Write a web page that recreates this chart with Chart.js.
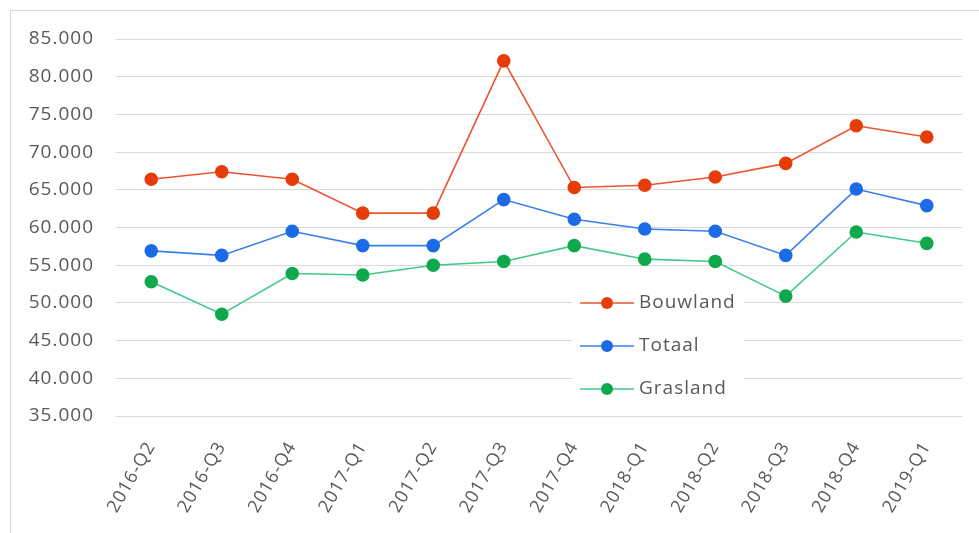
<!DOCTYPE html>
<html>
<head>
<meta charset="utf-8">
<script src="https://cdn.jsdelivr.net/npm/chart.js@4.4.1/dist/chart.umd.min.js"></script>
<style>
  html, body { margin: 0; padding: 0; background: #fff; }
  #wrap { position: relative; width: 979px; height: 533px; overflow: hidden; }
  #frame { position: absolute; left: 10px; top: 10px; width: 1000px; height: 600px; border: 1px solid #d9d9d9; }
  canvas { position: absolute; left: 0; top: 0; }
</style>
</head>
<body>
<div id="wrap">
  <div id="frame"></div>
  <canvas id="chart" width="979" height="533"></canvas>
</div>
<script>
// ── Data ───────────────────────────────────────────────────────
const quarters = ['2016-Q2', '2016-Q3', '2016-Q4', '2017-Q1', '2017-Q2', '2017-Q3',
                  '2017-Q4', '2018-Q1', '2018-Q2', '2018-Q3', '2018-Q4', '2019-Q1'];
const bouwland = [66400, 67400, 66400, 61900, 61900, 82100, 65300, 65600, 66700, 68500, 73500, 72000];
const totaal   = [56900, 56300, 59500, 57600, 57600, 63700, 61100, 59800, 59500, 56300, 65100, 62900];
const grasland = [52800, 48500, 53900, 53700, 55000, 55500, 57600, 55800, 55500, 50900, 59400, 57900];

const yMin = 35000, yMax = 85000, yStep = 5000;

const FONT = '"Open Sans", "Noto Sans", sans-serif';
const TEXT = '#595959';

const fmt = v => String(v).replace(/\B(?=(\d{3})+(?!\d))/g, '.');

function series(label, data, marker, line) {
  return {
    label, data,
    borderColor: line,
    backgroundColor: marker,
    pointBackgroundColor: marker,
    pointBorderColor: marker,
    borderWidth: 1.6,
    pointRadius: 6,
    pointHoverRadius: 6,
    tension: 0,
  };
}

// ── Slightly wider text spacing, like the Excel rendering ──────
const spacing = {
  id: 'spacing',
  beforeDraw(chart) { chart.ctx.letterSpacing = '1px'; },
};

// ── Legend drawn inside the plot (Excel style) ─────────────────
const innerLegend = {
  id: 'innerLegend',
  afterDatasetsDraw(chart) {
    const { ctx } = chart;
    const items = chart.data.datasets;
    const boxX = 572, boxY = 283, boxW = 172, rowH = 43;
    ctx.save();
    ctx.fillStyle = '#fff';
    ctx.fillRect(boxX, boxY, boxW, rowH * items.length);
    items.forEach((ds, i) => {
      const cy = 303 + i * rowH;
      ctx.strokeStyle = ds.borderColor;
      ctx.lineWidth = 1.6;
      ctx.beginPath();
      ctx.moveTo(580, cy);
      ctx.lineTo(634, cy);
      ctx.stroke();
      ctx.fillStyle = ds.pointBackgroundColor;
      ctx.beginPath();
      ctx.arc(607, cy, 6, 0, Math.PI * 2);
      ctx.fill();
      ctx.fillStyle = TEXT;
      ctx.font = `19px ${FONT}`;
      ctx.letterSpacing = '1px';
      ctx.textBaseline = 'middle';
      ctx.fillText(ds.label, 639, cy);
    });
    ctx.restore();
  },
};

new Chart(document.getElementById('chart'), {
  type: 'line',
  data: {
    labels: quarters,
    datasets: [
      series('Bouwland', bouwland, '#e63c0a', '#ee5430'),
      series('Totaal',   totaal,   '#1c6be6', '#3a7fee'),
      series('Grasland', grasland, '#0fa84c', '#40c98a'),
    ],
  },
  options: {
    responsive: false,
    animation: false,
    layout: { padding: { top: 39, right: 17, left: 0, bottom: 0 } },
    plugins: {
      legend: { display: false },
      tooltip: { enabled: false },
    },
    scales: {
      x: {
        offset: true,
        grid: { display: false, drawTicks: false },
        border: { display: false },
        ticks: {
          color: TEXT,
          font: { family: FONT, size: 18 },
          maxRotation: 60,
          minRotation: 60,
          padding: 22,
          autoSkip: false,
        },
        afterFit: s => { s.height = 117; },
      },
      y: {
        min: yMin,
        max: yMax,
        grid: { color: '#d9d9d9', lineWidth: 1, drawTicks: false },
        border: { display: false },
        ticks: {
          stepSize: yStep,
          color: TEXT,
          font: { family: FONT, size: 19 },
          padding: 22,
          callback: v => fmt(v),
        },
        afterFit: s => { s.width = 116; },
      },
    },
  },
  plugins: [spacing, innerLegend],
});
</script>
</body>
</html>
